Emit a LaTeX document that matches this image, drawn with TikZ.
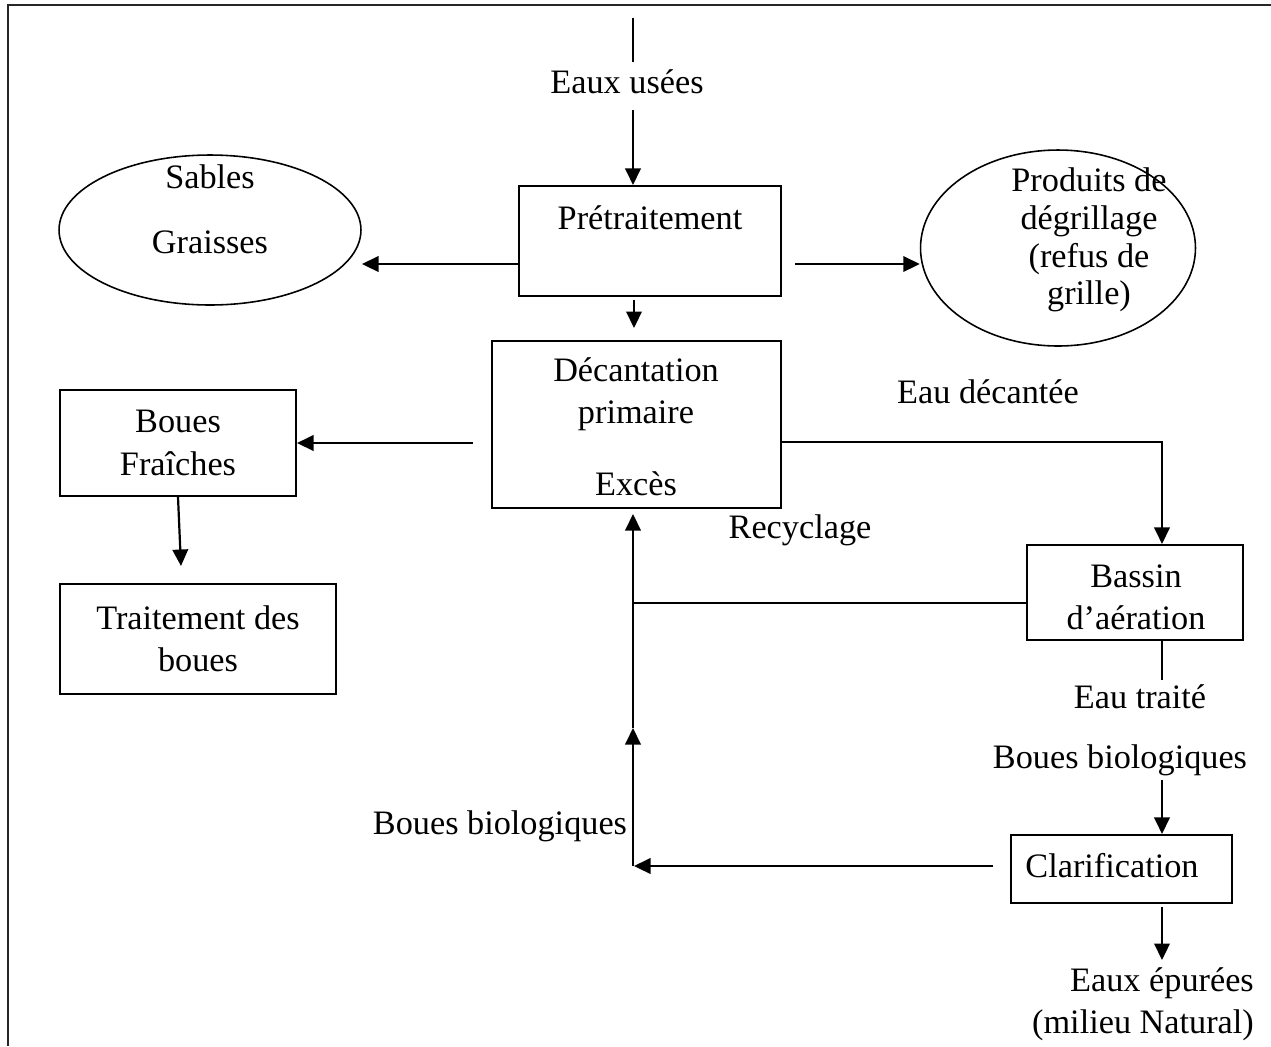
\documentclass[tikz,border=0pt]{standalone}
\usepackage{fontspec}
\setmainfont{Liberation Serif}
\usetikzlibrary{arrows.meta,shapes.geometric,calc}
\begin{document}
\begin{tikzpicture}[x=0.02cm,y=-0.02cm,
  txt/.style={font=\fontsize{19.5}{24}\selectfont, inner sep=0pt, align=center},
  box/.style={draw, line width=1.2pt, inner sep=0pt},
  oval/.style={draw, ellipse, line width=0.9pt, inner sep=0pt},
  ln/.style={line width=1.2pt},
  arr/.style={line width=1.25pt, -{Triangle[length=3.3mm,width=3.1mm]}},
]
\useasboundingbox (0,0) rectangle (1271,1046);
\draw[line width=1.3pt, black!85] (8,1046) -- (8,5) -- (1271,5);

% boxes
\node[box, minimum width=52.4mm, minimum height=22mm] (pre) at (650,241) {};
\node[txt] (preT) at (650,218) {Prétraitement};
\node[box, minimum width=57.8mm, minimum height=33.4mm] (dec) at (636.5,424.5) {};
\node[txt] (decT) at (636,394) {Décantation\\primaire};
\node[txt] (decE) at (636,484) {Excès};
\node[box, txt, draw, line width=1.2pt, minimum width=47.2mm, minimum height=21.2mm] (bf) at (178,443) {Boues\\Fraîches};
\node[box, txt, draw, line width=1.2pt, minimum width=55.2mm, minimum height=22mm] (tr) at (198,639) {Traitement des\\boues};
\node[box, minimum width=43.2mm, minimum height=19mm] (bas) at (1135,592.5) {};
\node[txt] (basT) at (1136,597) {Bassin\\d’aération};
\node[box, minimum width=44.2mm, minimum height=13.6mm] (cla) at (1121.5,869) {};
\node[txt] (claT) at (1112,866) {Clarification};

% ellipses
\node[oval, minimum width=60.4mm, minimum height=30mm] (sab) at (210,230) {};
\node[txt] (sabT1) at (210,177) {Sables};
\node[txt] (sabT2) at (210,242) {Graisses};
\node[oval, minimum width=55mm, minimum height=39.2mm] (prod) at (1058,248) {};
\node[txt, font=\fontsize{19.5}{21.5}\selectfont] (prodT) at (1089,240) {Produits de\\dégrillage\\(refus de\\grille)};

% free labels
\node[txt] (eu) at (627,82) {Eaux usées};
\node[txt] (edec) at (988,392) {Eau décantée};
\node[txt] (rec) at (800,530) {Recyclage};
\node[txt] (etr) at (1140,697) {Eau traité};
\node[txt] (bbr) at (1120,760) {Boues biologiques};
\node[txt] (bbl) at (500,826) {Boues biologiques};
\node[txt] (eep) at (1162,983) {Eaux épurées};
\node[txt] (mil) at (1143,1025) {(milieu Natural)};

% coordinates
\coordinate (in1) at (633,18);
\coordinate (in2) at (633,62);
\coordinate (in3) at (633,110);
\coordinate (sabTip) at (362,264);
\coordinate (prS) at (795,264);
\coordinate (pdS) at (634,300);
\coordinate (pdE) at (634,328);
\coordinate (bdS) at (473,443);
\coordinate (btE) at (181,566);
\coordinate (rj) at (1162,442);
\coordinate (j1) at (633,603);
\coordinate (j2) at (633,728);
\coordinate (j3) at (633,514);
\coordinate (j4) at (633,866);
\coordinate (bot1) at (1162,680);
\coordinate (bb1) at (1162,780);
\coordinate (ce1) at (1162,907);
\coordinate (ce2) at (1162,960);
\coordinate (cl1) at (993,866);

% connectors
\draw[ln] (in1) -- (in2);
\draw[arr] (in3) -- (in3 |- pre.north);
\draw[arr] (pre.west |- sabTip) -- (sabTip);
\draw[arr] (prS) -- (prS -| prod.west);
\draw[arr] (pdS) -- (pdE);
\draw[arr] (bdS) -- (bf.east);
\draw[arr] (bf.south) -- (btE);
\draw[arr] (dec.east |- rj) -- (rj) -- (rj |- bas.north);
\draw[ln] (bas.west |- j1) -- (j1);
\draw[ln] (bas.south -| bot1) -- (bot1);
\draw[arr] (bb1) -- (bb1 |- cla.north);
\draw[arr] (ce1) -- (ce2);
\draw[arr] (cl1) -- ($(j4)+(1,0)$);
\draw[arr] (j4) -- (j2);
\draw[arr] (j2) -- (j3);
\end{tikzpicture}
\end{document}
